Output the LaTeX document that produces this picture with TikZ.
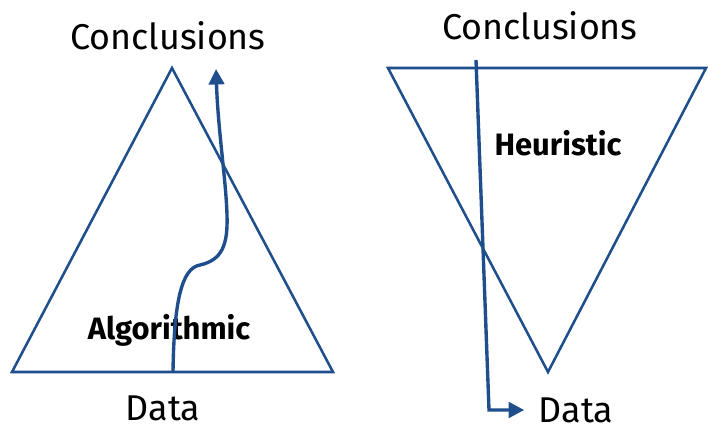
\documentclass[tikz,border=0pt]{standalone}
\usepackage{fontspec}
\setmainfont{Fira Sans}
\usetikzlibrary{arrows.meta, positioning}
\definecolor{lineblue}{RGB}{31,78,140}

\begin{document}
\begin{tikzpicture}[x=0.025cm, y=-0.025cm,
  tri/.style={lineblue, line width=1.8pt, line join=miter},
  flow/.style={lineblue, line width=2.4pt, -{Triangle[length=11pt, width=11pt]}},
  lbl/.style={font=\fontsize{25.5}{29}\selectfont},
  kind/.style={font=\bfseries\fontsize{22}{26}\selectfont}]
\useasboundingbox (0,0) rectangle (708,430);

% Algorithmic
\coordinate (aApex) at (172,68);
\coordinate (aLeft) at (12,372);
\coordinate (aRight) at (333,372);
\draw[tri] (aApex) -- (aLeft) -- (aRight) -- cycle;
\node[lbl] (conclA) at (168,36) {Conclusions};
\node[lbl] (dataA) at (163,408) {Data};
\node[kind] (algo) at (169,330) {Algorithmic};
\coordinate (aStart) at (173,372);
\coordinate (aEnd) at (216,69);
\draw[flow] (aStart) .. controls (174,300) and (182,268) .. (200,265)
  .. controls (222,260) and (228,245) .. (227,215)
  .. controls (226,180) and (218,130) .. (aEnd);

% Heuristic
\coordinate (hLeft) at (388,68);
\coordinate (hRight) at (706,68);
\coordinate (hApex) at (548,372);
\draw[tri] (hLeft) -- (hRight) -- (hApex) -- cycle;
\node[lbl] (conclH) at (540,26) {Conclusions};
\node[lbl, anchor=west] (dataH) at (534,410) {Data};
\node[kind] (heur) at (558,143) {Heuristic};
\coordinate (hStart) at (476,60);
\coordinate (hBend) at (489,410);
\draw[flow, shorten >=7pt] (hStart) -- (hBend) -- (dataH.west |- hBend);
\end{tikzpicture}
\end{document}
